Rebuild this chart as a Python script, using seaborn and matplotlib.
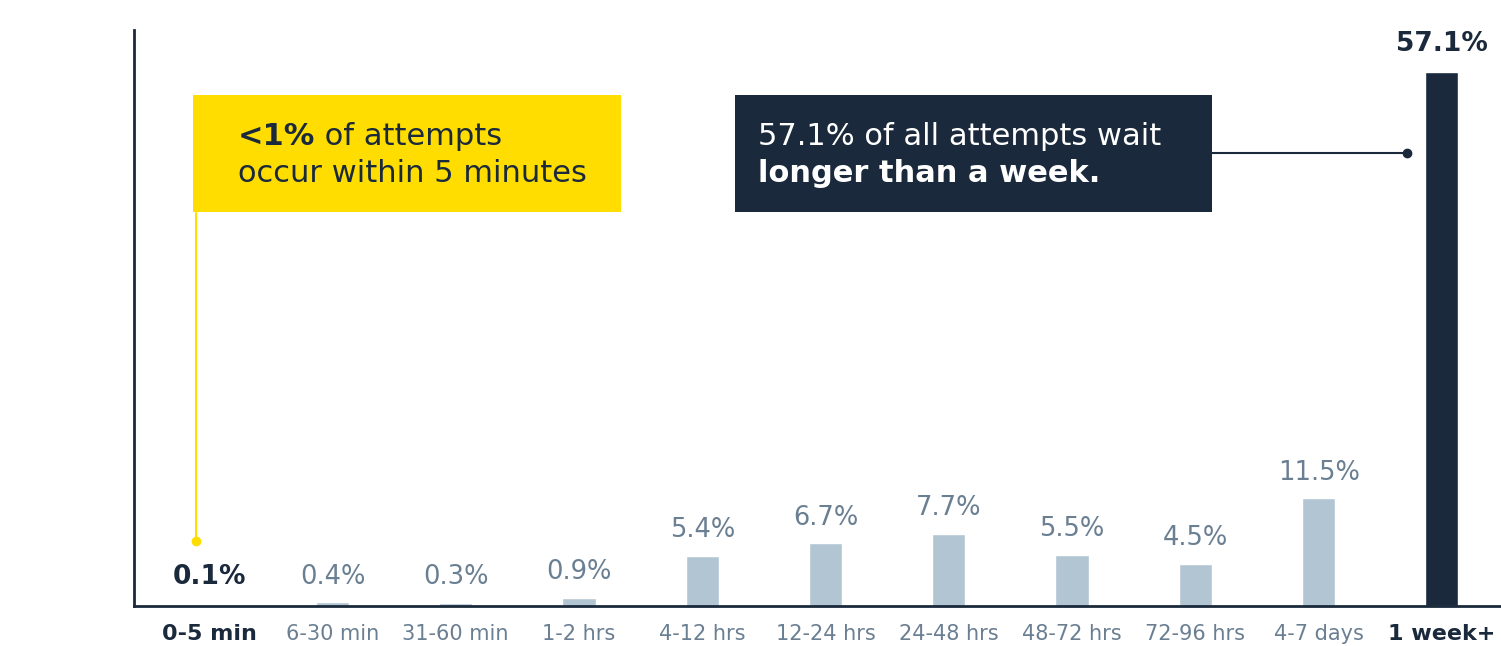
import matplotlib
matplotlib.use("Agg")
import matplotlib.pyplot as plt
import seaborn as sns
import pandas as pd
from matplotlib.patches import Rectangle

categories = ["0-5 min", "6-30 min", "31-60 min", "1-2 hrs", "4-12 hrs", "12-24 hrs",
              "24-48 hrs", "48-72 hrs", "72-96 hrs", "4-7 days", "1 week+"]
values = [0.1, 0.4, 0.3, 0.9, 5.4, 6.7, 7.7, 5.5, 4.5, 11.5, 57.1]
labels = ["0.1%", "0.4%", "0.3%", "0.9%", "5.4%", "6.7%", "7.7%", "5.5%", "4.5%", "11.5%", "57.1%"]
highlight = [True, False, False, False, False, False, False, False, False, False, True]

NAVY = "#1a293b"
LIGHT = "#b2c5d2"
GRAY = "#6a7f92"
YELLOW = "#ffdd00"

sns.set_theme(style="white")
plt.rcParams["font.family"] = ["DejaVu Sans"]

W, H = 1501, 646
fig = plt.figure(figsize=(W / 100, H / 100), dpi=100)
ax = fig.add_axes([134 / W, 40 / H, 1 - 134 / W, (606 - 30) / H])

df = pd.DataFrame({"cat": categories, "val": values})
palette = [NAVY if h else LIGHT for h in highlight]
sns.barplot(data=df, x="cat", y="val", hue="cat", palette=palette, legend=False,
            width=0.27, ax=ax, saturation=1)

ax.set_xlim(-0.61, 10.48)
ax.set_ylim(0, 61.6)
ax.set_xlabel("")
ax.set_ylabel("")
ax.set_yticks([])
for s in ["top", "right"]:
    ax.spines[s].set_visible(False)
for s in ["left", "bottom"]:
    ax.spines[s].set_color(NAVY)
    ax.spines[s].set_linewidth(2)

ax.tick_params(axis="x", length=0, pad=13)
for lab, h in zip(ax.get_xticklabels(), highlight):
    if h:
        lab.set_fontsize(16)
        lab.set_fontweight("bold")
        lab.set_color(NAVY)
    else:
        lab.set_fontsize(15)
        lab.set_color(GRAY)

for i, (v, t, h) in enumerate(zip(values, labels, highlight)):
    if h:
        ax.annotate(t, (i, v), xytext=(0, 15), textcoords="offset points",
                    ha="center", va="baseline", fontsize=19, fontweight="bold", color=NAVY)
    else:
        ax.annotate(t, (i, v), xytext=(0, 13.5), textcoords="offset points",
                    ha="center", va="baseline", fontsize=18.5, color=GRAY)


def fx(px):
    return px / W


def fy(py):
    return 1 - py / H


def mixed_line(x_px, y_px, parts, color, size):
    """Draw a line of text made of (string, weight) parts, left to right."""
    fig.canvas.draw()
    renderer = fig.canvas.get_renderer()
    x = fx(x_px)
    for s, wgt in parts:
        t = fig.text(x, fy(y_px), s, color=color, fontsize=size, fontweight=wgt,
                     ha="left", va="baseline", zorder=5)
        bb = t.get_window_extent(renderer=renderer)
        x += bb.width / W


# Yellow callout
fig.add_artist(Rectangle((fx(193), fy(212)), fx(621) - fx(193), fy(95) - fy(212),
                         transform=fig.transFigure, facecolor=YELLOW, edgecolor="none", zorder=3))
ax.plot([-0.11, -0.11], [7.0, 42.0], color=YELLOW, lw=1.5, clip_on=False, zorder=2)
ax.plot([-0.11], [7.0], marker="o", ms=6, color=YELLOW, clip_on=False, zorder=2)
mixed_line(238, 145, [("<1%", "bold"), (" of attempts", "normal")], NAVY, 22)
mixed_line(238, 182, [("occur within 5 minutes", "normal")], NAVY, 22)

# Dark callout
fig.add_artist(Rectangle((fx(735), fy(212)), fx(1212) - fx(735), fy(95) - fy(212),
                         transform=fig.transFigure, facecolor=NAVY, edgecolor="none", zorder=3))
ax.plot([8.0, 9.72], [48.4, 48.4], color=NAVY, lw=1.5, clip_on=False, zorder=2)
ax.plot([9.72], [48.4], marker="o", ms=6, color=NAVY, clip_on=False, zorder=2)
mixed_line(758, 145, [("57.1% of all attempts wait", "normal")], "white", 22)
mixed_line(758, 182, [("longer than a week.", "bold")], "white", 22)

fig.savefig("out.png", dpi=100)
